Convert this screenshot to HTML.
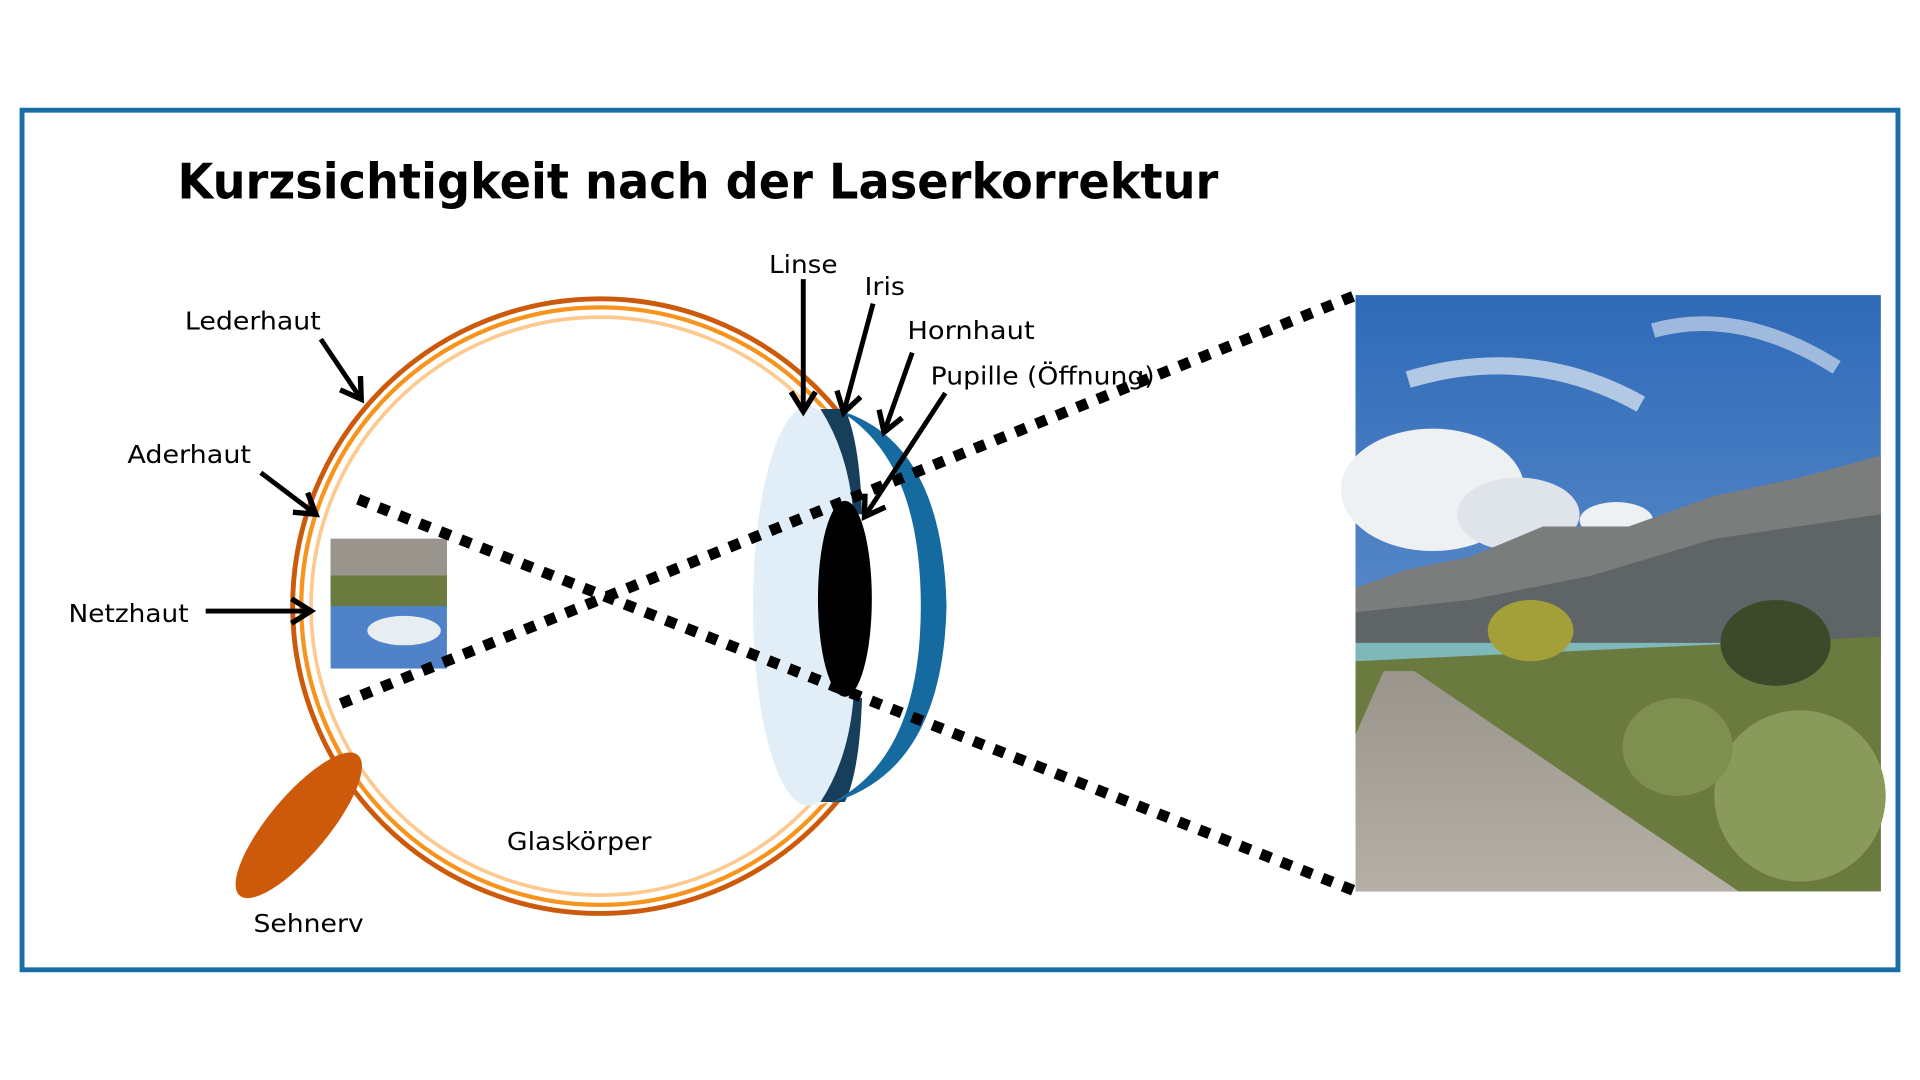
<!DOCTYPE html>
<html><head><meta charset="utf-8"><style>
html,body{margin:0;padding:0;background:#fff;width:1920px;height:1080px;overflow:hidden}
svg{display:block}
text{font-family:"DejaVu Sans","Liberation Sans",sans-serif}
</style></head><body>
<svg width="1920" height="1080" viewBox="0 0 1568 882" xmlns="http://www.w3.org/2000/svg">
<defs>
<marker id="ah" markerWidth="6" markerHeight="6" refX="4.5" refY="3" orient="auto" markerUnits="strokeWidth">
<path d="M0.5,0.5 L4.5,3 L0.5,5.5" fill="none" stroke="#000" stroke-width="1.1"/>
</marker>
<linearGradient id="sky" x1="0" y1="0" x2="0" y2="1">
<stop offset="0" stop-color="#2f6ab8"/><stop offset="1" stop-color="#7aa3d6"/>
</linearGradient>
<linearGradient id="road" x1="0" y1="0" x2="0" y2="1">
<stop offset="0" stop-color="#9a958c"/><stop offset="1" stop-color="#b5b0a6"/>
</linearGradient>
</defs>
<rect x="18" y="90" width="1532" height="702" fill="none" stroke="#1a6ea8" stroke-width="4"/>
<text x="145" y="162" font-size="40" font-weight="bold" fill="#000" textLength="850" lengthAdjust="spacingAndGlyphs">Kurzsichtigkeit nach der Laserkorrektur</text>

<!-- photo -->
<g>
<rect x="1107" y="241" width="429" height="487" fill="url(#sky)"/>
<ellipse cx="1170" cy="400" rx="75" ry="50" fill="#eef1f4"/>
<ellipse cx="1240" cy="420" rx="50" ry="30" fill="#dfe4ea"/>
<ellipse cx="1320" cy="425" rx="30" ry="15" fill="#eef1f4"/>
<path d="M1150,310 Q1250,280 1340,330" stroke="#e6edf5" stroke-width="14" fill="none" opacity="0.7"/>
<path d="M1350,270 Q1420,250 1500,300" stroke="#e6edf5" stroke-width="12" fill="none" opacity="0.6"/>
<path d="M1107,480 L1150,465 L1200,455 L1260,430 L1330,430 L1400,405 L1470,390 L1536,372 L1536,530 L1107,530 Z" fill="#7b7d7d"/>
<path d="M1107,500 L1200,490 L1300,470 L1400,440 L1536,420 L1536,530 L1107,530Z" fill="#5f6566"/>
<rect x="1107" y="525" width="429" height="30" fill="#7fb8b8"/>
<path d="M1107,540 L1536,520 L1536,728 L1107,728Z" fill="#6b7a3e"/>
<path d="M1130,548 L1155,548 L1420,728 L1107,728 L1107,600Z" fill="url(#road)"/>
<ellipse cx="1450" cy="525" rx="45" ry="35" fill="#3d4a2a"/>
<ellipse cx="1470" cy="650" rx="70" ry="70" fill="#8a9a5a"/>
<ellipse cx="1370" cy="610" rx="45" ry="40" fill="#7f8f4f"/>
<ellipse cx="1250" cy="515" rx="35" ry="25" fill="#a3a03a"/>
</g>

<!-- small inverted image -->
<g>
<rect x="270" y="440" width="95" height="106" fill="#4f82c8"/>
<rect x="270" y="440" width="95" height="45" fill="#9a958c"/>
<rect x="270" y="470" width="95" height="25" fill="#6b7a3e"/>
<ellipse cx="330" cy="515" rx="30" ry="12" fill="#e8edf2"/>
</g>

<!-- eye rings -->
<circle cx="490" cy="495" r="251" fill="none" stroke="#cc5a0a" stroke-width="4"/>
<circle cx="490" cy="495" r="244" fill="none" stroke="#f7941d" stroke-width="3.5"/>
<circle cx="490" cy="495" r="236" fill="none" stroke="#fdc98f" stroke-width="3"/>
<!-- hide rings inside cornea -->
<path d="M668,332 Q756,360 756,495 Q756,630 668,658 Z" fill="#fff"/>

<!-- optic nerve -->
<ellipse cx="244" cy="674" rx="24" ry="75" fill="#cc5a0a" transform="rotate(40 244 674)"/>

<!-- lens -->
<ellipse cx="660" cy="495" rx="45" ry="163" fill="#e1eef8"/>
<!-- iris dark pieces -->
<path d="M670,334 L690,334 Q702,360 704,420 L697,420 Q693,370 670,334Z" fill="#173f5c"/>
<path d="M670,655 L690,655 Q702,630 704,570 L697,570 Q693,620 670,655Z" fill="#173f5c"/>
<!-- cornea -->
<path d="M685,335 Q770,360 773,495 Q770,630 678,656 Q752,620 752,495 Q752,375 685,335Z" fill="#156aa0"/>

<!-- dotted lines -->
<g stroke="#000" stroke-width="9" stroke-dasharray="9 9" fill="none">
<line x1="1105" y1="242" x2="275" y2="576"/>
<line x1="1105" y1="727" x2="288" y2="406"/>
</g>
<!-- pupil -->
<ellipse cx="690" cy="489" rx="22" ry="80" fill="#000"/>

<!-- arrows -->
<g stroke="#000" stroke-width="4" fill="none" marker-end="url(#ah)">
<line x1="262" y1="277" x2="295" y2="326"/>
<line x1="213" y1="386" x2="258" y2="420"/>
<line x1="168" y1="499" x2="254" y2="499"/>
<line x1="656" y1="228" x2="656" y2="336"/>
<line x1="713" y1="248" x2="689" y2="337"/>
<line x1="745" y1="288" x2="722" y2="353"/>
<line x1="772" y1="321" x2="706" y2="422"/>
</g>

<g font-size="20" fill="#000">
<text x="151" y="269" textLength="111" lengthAdjust="spacingAndGlyphs">Lederhaut</text>
<text x="104" y="378" textLength="101" lengthAdjust="spacingAndGlyphs">Aderhaut</text>
<text x="56" y="508" textLength="98" lengthAdjust="spacingAndGlyphs">Netzhaut</text>
<text x="628" y="223" textLength="56" lengthAdjust="spacingAndGlyphs">Linse</text>
<text x="706" y="241" textLength="33" lengthAdjust="spacingAndGlyphs">Iris</text>
<text x="741" y="277" textLength="104" lengthAdjust="spacingAndGlyphs">Hornhaut</text>
<text x="760" y="314" textLength="183" lengthAdjust="spacingAndGlyphs">Pupille (Öffnung)</text>
<text x="414" y="694" textLength="118" lengthAdjust="spacingAndGlyphs">Glaskörper</text>
<text x="207" y="761" textLength="90" lengthAdjust="spacingAndGlyphs">Sehnerv</text>
</g>
</svg>
</body></html>
